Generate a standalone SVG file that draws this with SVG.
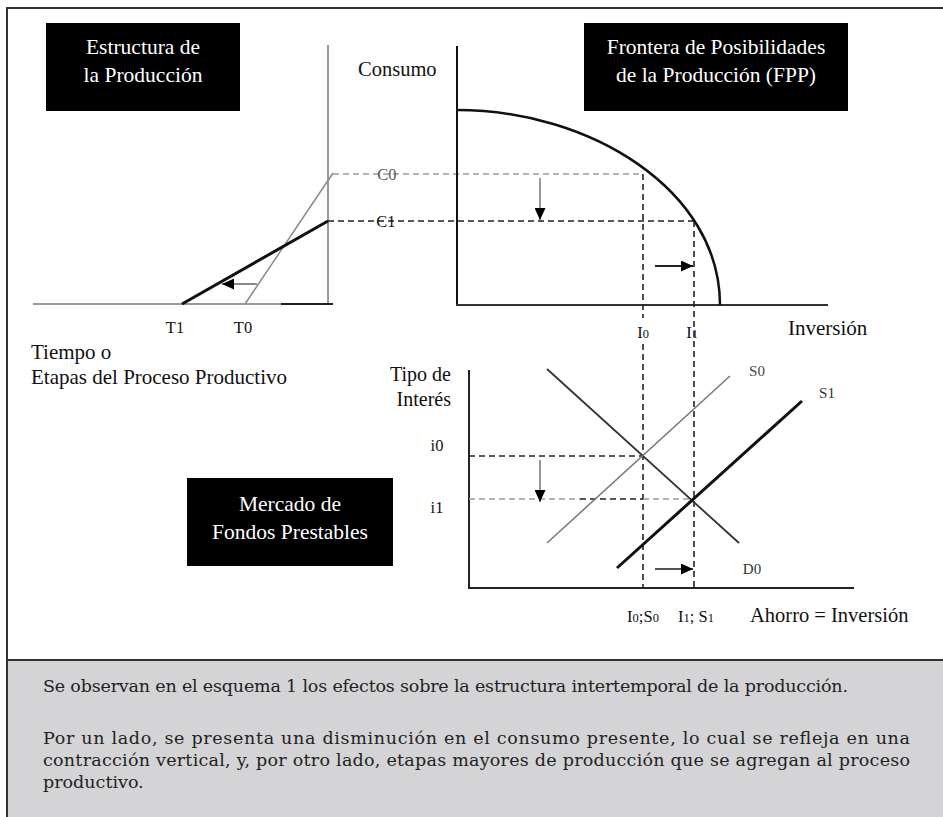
<svg xmlns="http://www.w3.org/2000/svg" width="943" height="817" viewBox="0 0 943 817">
<style>
.t{font-family:"Liberation Serif","Times New Roman",serif;fill:#111}
.lab{font-size:20px}
.sm{font-size:16.5px}
.box{fill:#000}
.bt{font-family:"Liberation Serif","Times New Roman",serif;font-size:21.5px;fill:#fff;text-anchor:middle}
.dk{stroke:#222;stroke-width:1.6;stroke-dasharray:6 4;fill:none}
.dg{stroke:#9a9a9a;stroke-width:1.6;stroke-dasharray:6 4;fill:none}
.para{font-family:"DejaVu Serif",serif;font-size:17.5px;fill:#222}
</style>
<defs>
<marker id="ah" viewBox="0 0 12 11" refX="12" refY="5.5" markerWidth="12" markerHeight="11" markerUnits="userSpaceOnUse" orient="auto">
<path d="M0,0 L12,5.5 L0,11 z" fill="#000"/>
</marker>
</defs>
<rect width="943" height="817" fill="#fff"/>
<g id="frame">
<rect x="7" y="660" width="936" height="157" fill="#d4d4d6"/>
<line x1="6" y1="8" x2="943" y2="8" stroke="#333" stroke-width="2"/>
<line x1="7" y1="8" x2="7" y2="817" stroke="#333" stroke-width="2"/>
<line x1="7" y1="660" x2="943" y2="660" stroke="#333" stroke-width="2"/>
</g>
<g id="connectors">
<line x1="328" y1="45" x2="328" y2="304" stroke="#9a9a9a" stroke-width="2"/>
<line x1="33" y1="304" x2="281" y2="304" stroke="#999" stroke-width="2"/>
<line x1="281" y1="304" x2="333" y2="304" stroke="#222" stroke-width="2"/>
<line x1="245" y1="304" x2="333" y2="173" stroke="#888" stroke-width="1.5"/>
<line x1="182" y1="304" x2="328" y2="221" stroke="#111" stroke-width="3"/>
<line x1="257" y1="284" x2="222" y2="284" stroke="#888" stroke-width="2" marker-end="url(#ah)"/>
<line x1="333" y1="174" x2="643" y2="174" class="dg"/>
<line x1="328" y1="221" x2="694" y2="221" class="dk"/>
<line x1="457" y1="46" x2="457" y2="306" stroke="#111" stroke-width="2"/>
<line x1="456" y1="305" x2="828" y2="305" stroke="#333" stroke-width="2"/>
<path d="M457,110 C590,110 720,190 720,305" fill="none" stroke="#111" stroke-width="2.5"/>
<line x1="643" y1="174" x2="643" y2="318" class="dk"/>
<line x1="643" y1="344" x2="643" y2="588" class="dk"/>
<line x1="694" y1="221" x2="694" y2="588" class="dk"/>
<line x1="540" y1="178" x2="540" y2="220" stroke="#777" stroke-width="1.5" marker-end="url(#ah)"/>
<line x1="655" y1="266" x2="693" y2="266" stroke="#222" stroke-width="2" marker-end="url(#ah)"/>
<line x1="469" y1="370" x2="469" y2="589" stroke="#222" stroke-width="2"/>
<line x1="468" y1="588" x2="854" y2="588" stroke="#222" stroke-width="2"/>
<line x1="469" y1="456" x2="643" y2="456" class="dk"/>
<line x1="469" y1="499" x2="580" y2="499" class="dg"/>
<line x1="580" y1="499" x2="643" y2="499" class="dk"/>
<line x1="643" y1="499" x2="693" y2="499" class="dg"/>
<line x1="547" y1="369" x2="739" y2="543" stroke="#333" stroke-width="1.8"/>
<line x1="547" y1="543" x2="730" y2="376" stroke="#777" stroke-width="1.5"/>
<line x1="617" y1="568" x2="802" y2="401" stroke="#111" stroke-width="3"/>
<line x1="540" y1="460" x2="540" y2="502" stroke="#777" stroke-width="1.5" marker-end="url(#ah)"/>
<line x1="655" y1="569" x2="693" y2="569" stroke="#555" stroke-width="2" marker-end="url(#ah)"/>
</g>
<g id="box-estructura">
<rect x="46" y="23" width="194" height="88" class="box"/>
<text x="143" y="54" class="bt">Estructura de</text>
<text x="143" y="82" class="bt">la Producción</text>
</g>
<g id="box-fpp">
<rect x="584" y="23" width="264" height="88" class="box"/>
<text x="716" y="54" class="bt">Frontera de Posibilidades</text>
<text x="716" y="82" class="bt">de la Producción (FPP)</text>
</g>
<g id="box-mercado">
<rect x="187" y="478" width="206" height="88" class="box"/>
<text x="290" y="511" class="bt">Mercado de</text>
<text x="290" y="539" class="bt">Fondos Prestables</text>
</g>
<g id="labels-left">
<text x="358" y="76" class="t" style="font-size:20.5px">Consumo</text>
<text x="387" y="180" class="t sm" text-anchor="middle" style="fill:#555">C0</text>
<text x="386" y="227" class="t sm" text-anchor="middle">C1</text>
<text x="175" y="333" class="t sm" text-anchor="middle">T1</text>
<text x="243" y="333" class="t sm" text-anchor="middle">T0</text>
<text x="31" y="359" class="t" style="font-size:21px">Tiempo o</text>
<text x="31" y="384" class="t" style="font-size:21px">Etapas del Proceso Productivo</text>
</g>
<g id="labels-fpp">
<text x="643" y="338" class="t sm" text-anchor="middle">I<tspan font-size="12.5">0</tspan></text>
<text x="692" y="338" class="t sm" text-anchor="middle">I<tspan font-size="12.5">1</tspan></text>
<text x="788" y="335" class="t" style="font-size:21px">Inversión</text>
</g>
<g id="labels-mercado">
<text x="451" y="381" class="t lab" text-anchor="end">Tipo de</text>
<text x="451" y="406" class="t lab" text-anchor="end">Interés</text>
<text x="437" y="451" class="t sm" text-anchor="middle">i0</text>
<text x="437" y="513" class="t sm" text-anchor="middle">i1</text>
<text x="757" y="376" class="t" style="font-size:15px;fill:#444" text-anchor="middle">S0</text>
<text x="827" y="398" class="t" style="font-size:15px;fill:#333" text-anchor="middle">S1</text>
<text x="752" y="574" class="t" style="font-size:15px;fill:#333" text-anchor="middle">D0</text>
<text x="643" y="622" class="t sm" text-anchor="middle">I<tspan font-size="12.5">0</tspan>;S<tspan font-size="12.5">0</tspan></text>
<text x="696" y="622" class="t sm" text-anchor="middle">I<tspan font-size="12.5">1</tspan>; S<tspan font-size="12.5">1</tspan></text>
<text x="750" y="622" class="t" style="font-size:20.5px">Ahorro = Inversión</text>
</g>
<g id="caption">
<text x="43" y="692" class="para" textLength="805">Se observan en el esquema 1 los efectos sobre la estructura intertemporal de la producción.</text>
<text x="43" y="744" class="para" textLength="867">Por un lado, se presenta una disminución en el consumo presente, lo cual se refleja en una</text>
<text x="43" y="766" class="para" textLength="867">contracción vertical, y, por otro lado, etapas mayores de producción que se agregan al proceso</text>
<text x="43" y="788" class="para">productivo.</text>
</g>
</svg>
